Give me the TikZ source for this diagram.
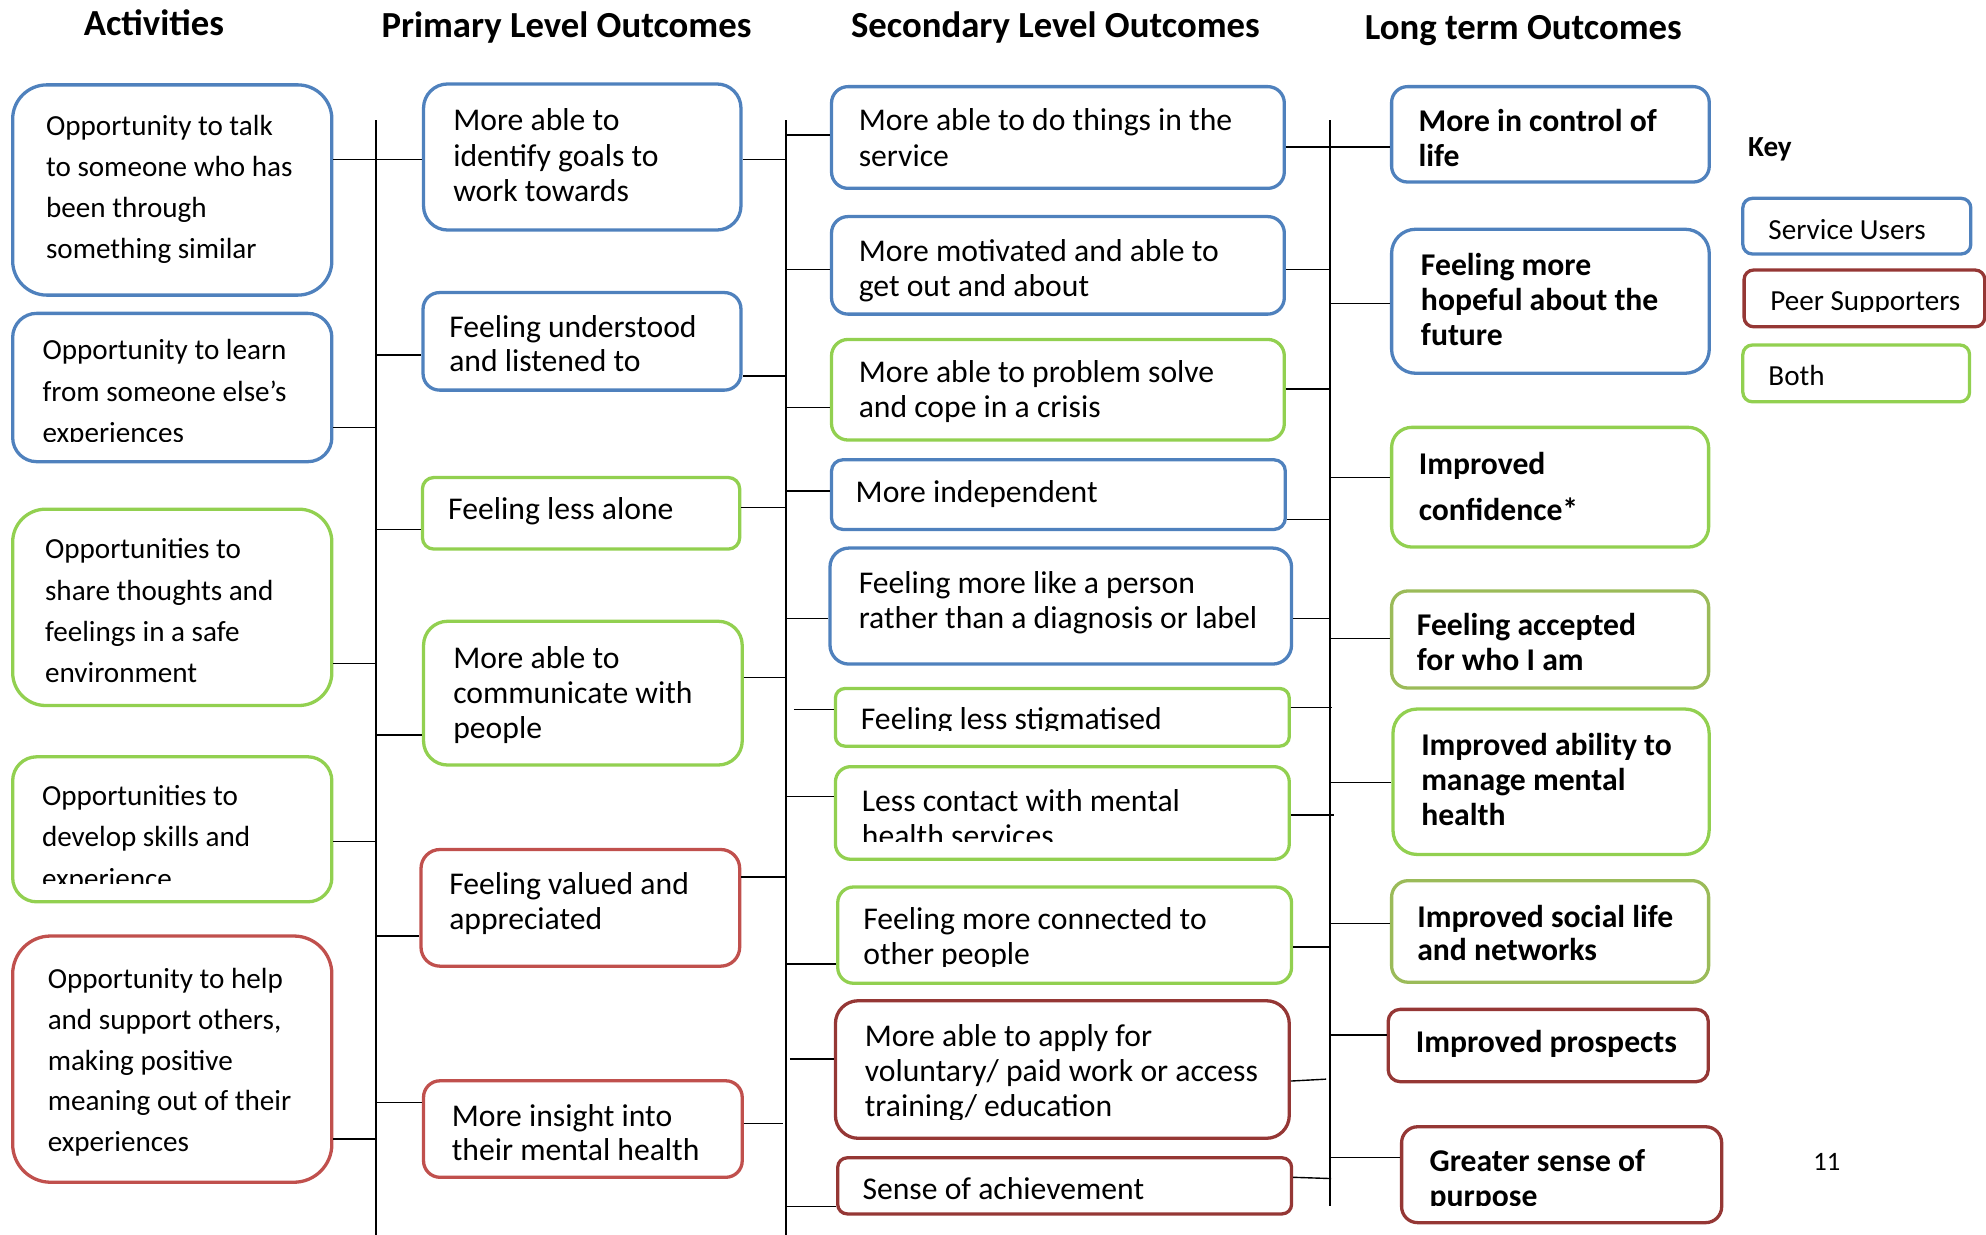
\documentclass[tikz,border=0pt]{standalone}
\usepackage{fontspec}
\setmainfont{Carlito}
\definecolor{cblue}{HTML}{4F81BD}
\definecolor{cgreen}{HTML}{92D050}
\definecolor{colive}{HTML}{9BBB59}
\definecolor{cred}{HTML}{C0504D}
\definecolor{cdkred}{HTML}{953735}
\newcommand{\bx}[7]{\node[box, draw=#6, rounded corners=#7pt, minimum width={(#4)-(#2)}, minimum height={(#5)-(#3)}] (#1) at ({((#2)+(#4))/2},{((#3)+(#5))/2}) {};}
\newcommand{\mlines}[1]{\vtop{#1}}
\newcommand{\tline}[1]{\hbox{#1}}
\tikzset{
  box/.style={rectangle, line width=2.6pt, inner sep=0pt},
  conn/.style={line width=1.1pt, black},
  ta/.style={anchor=base west, inner sep=0pt, font=\fontsize{23}{32.6}\selectfont},
  tp/.style={anchor=base west, inner sep=0pt, yshift=-0.8pt, font=\fontsize{25}{27.7}\selectfont},
  tl/.style={anchor=base west, inner sep=0pt, yshift=-1.2pt, font=\bfseries\fontsize{25}{27.8}\selectfont},
  th/.style={anchor=base west, inner sep=0pt, font=\bfseries\fontsize{29}{34}\selectfont},
  tk/.style={anchor=base west, inner sep=0pt, font=\fontsize{23}{27}\selectfont},
}
\begin{document}
\begin{tikzpicture}[x=1pt,y=-1pt]
\useasboundingbox (0,0) rectangle (1568,975);

% headings
\node[th] (hA) at (66,28.2) {Activities};
\node[th] (hP) at (301,29.4) {Primary Level Outcomes};
\node[th] (hS) at (671.7,29.4) {Secondary Level Outcomes};
\node[th] (hL) at (1077.4,31.2) {Long term Outcomes};

% boxes
\bx{A1}{10}{67}{262}{233}{cblue}{27}
\bx{A2}{10}{247.4}{262}{364.5}{cblue}{19}
\bx{A3}{10}{402}{262}{557}{cgreen}{26}
\bx{A4}{10}{597.5}{262}{712}{cgreen}{19}
\bx{A5}{10}{739}{262}{933.4}{cred}{30}
\bx{P1}{334.4}{66.3}{585}{181.6}{cblue}{19}
\bx{P2}{334}{231}{585}{308}{cblue}{13}
\bx{P3}{333.5}{377}{584}{433.5}{cgreen}{9}
\bx{P4}{334.4}{490.5}{586}{604}{cgreen}{19}
\bx{P5}{332.4}{670.7}{584}{762.8}{cred}{15}
\bx{P6}{334.4}{853.3}{586}{929.5}{cred}{13}
\bx{S1}{656.5}{68.4}{1014}{148.7}{cblue}{13}
\bx{S2}{656.5}{171}{1014}{248}{cblue}{13}
\bx{S3}{656.5}{268}{1014}{347.4}{cgreen}{13}
\bx{S4}{656.5}{363}{1014.8}{418}{cblue}{9}
\bx{S5}{655.3}{432.7}{1019.7}{524.3}{cblue}{15}
\bx{S6}{659.6}{543.6}{1017.9}{589.1}{cgreen}{7.5}
\bx{S7}{659.6}{605.3}{1017.9}{678.4}{cgreen}{12}
\bx{S8}{661.4}{700.3}{1019.7}{776.3}{cgreen}{12.5}
\bx{S9}{659.6}{790.1}{1017.9}{898.7}{cdkred}{18}
\bx{S10}{661.4}{914.1}{1019.7}{958.4}{cdkred}{7.5}
\bx{L1}{1098.7}{68.4}{1349.5}{143.7}{cblue}{12.5}
\bx{L2}{1098.7}{181}{1349.5}{294.7}{cblue}{19}
\bx{L3}{1098.7}{337.4}{1349}{431.9}{cgreen}{16}
\bx{L4}{1098.7}{466.6}{1349}{543.2}{colive}{12.7}
\bx{L5}{1099.8}{559.8}{1349.4}{674.6}{cgreen}{19}
\bx{L6}{1098.7}{695.3}{1349}{775.5}{colive}{13}
\bx{L7}{1096}{796.9}{1348.7}{854}{cdkred}{9.5}
\bx{L8}{1106.6}{889.6}{1359.3}{965.3}{cdkred}{12.6}
\bx{K1}{1376}{156.6}{1556}{200.5}{cblue}{7.5}
\bx{K2}{1377}{213.2}{1567}{258}{cdkred}{7.5}
\bx{K3}{1376}{272.4}{1555}{317.2}{cgreen}{7.5}

% activity texts
\node[ta] (tA1) at (36.2,106.6) {\mlines{\tline{Opportunity to talk}\tline{to someone who has}\tline{been through}\tline{something similar}}};
\begin{scope}
\clip (12,250) rectangle (260,348.7);
\node[ta] (tA2) at (33.4,284.2) {\mlines{\tline{Opportunity to learn}\tline{from someone else’s}\tline{experiences}}};
\end{scope}
\node[ta] (tA3) at (35.4,441.2) {\mlines{\tline{Opportunities to}\tline{share thoughts and}\tline{feelings in a safe}\tline{environment}}};
\begin{scope}
\clip (12,600) rectangle (260,697.7);
\node[ta] (tA4) at (33,636) {\mlines{\tline{Opportunities to}\tline{develop skills and}\tline{experience}}};
\end{scope}
\node[ta, font=\fontsize{23}{32.2}\selectfont] (tA5) at (37.5,780.5) {\mlines{\tline{Opportunity to help}\tline{and support others,}\tline{making positive}\tline{meaning out of their}\tline{experiences}}};

% primary texts
\node[tp] (tP1) at (357.7,102.6) {\mlines{\tline{More able to}\tline{identify goals to}\tline{work towards}}};
\node[tp, font=\fontsize{25}{27}\selectfont] (tP2) at (354.5,265.8) {\mlines{\tline{Feeling understood}\tline{and listened to}}};
\node[tp] (tP3) at (353.7,409.6) {Feeling less alone};
\node[tp] (tP4) at (357.7,527) {\mlines{\tline{More able to}\tline{communicate with}\tline{people}}};
\node[tp] (tP5) at (354.5,705.4) {\mlines{\tline{Feeling valued and}\tline{appreciated}}};
\node[tp, font=\fontsize{25}{27}\selectfont] (tP6) at (356.5,888.3) {\mlines{\tline{More insight into}\tline{their mental health}}};

% secondary texts
\node[tp] (tS1) at (677.8,102.6) {\mlines{\tline{More able to do things in the}\tline{service}}};
\node[tp] (tS2) at (677.8,205.3) {\mlines{\tline{More motivated and able to}\tline{get out and about}}};
\node[tp] (tS3) at (677.8,301.3) {\mlines{\tline{More able to problem solve}\tline{and cope in a crisis}}};
\node[tp] (tS4) at (675.4,396) {More independent};
\node[tp] (tS5) at (677.8,468.1) {\mlines{\tline{Feeling more like a person}\tline{rather than a diagnosis or label}}};
\begin{scope}
\clip (662,546) rectangle (1015,576.4);
\node[tp] (tS6) at (679.5,575) {Feeling less stigmatised};
\end{scope}
\begin{scope}
\clip (662,608) rectangle (1015,664.5);
\node[tp] (tS7) at (680.3,639.5) {\mlines{\tline{Less contact with mental}\tline{health services}}};
\end{scope}
\begin{scope}
\clip (663,703) rectangle (1017,763.2);
\node[tp] (tS8) at (681.4,733.1) {\mlines{\tline{Feeling more connected to}\tline{other people}}};
\end{scope}
\begin{scope}
\clip (662,793) rectangle (1015,884);
\node[tp] (tS9) at (682.6,825.5) {\mlines{\tline{More able to apply for}\tline{voluntary/ paid work or access}\tline{training/ education}}};
\end{scope}
\node[tp] (tS10) at (680.8,946) {Sense of achievement};

% long-term texts
\node[tl] (tL1) at (1119.8,102.6) {\mlines{\tline{More in control of}\tline{life}}};
\node[tl] (tL2) at (1121.7,216.3) {\mlines{\tline{Feeling more}\tline{hopeful about the}\tline{future}}};
\node[tl, font=\bfseries\fontsize{25}{35.9}\selectfont] (tL3) at (1120,373.7) {\mlines{\tline{Improved}\tline{confidence*}}};
\node[tl] (tL4) at (1118.5,500.6) {\mlines{\tline{Feeling accepted}\tline{for who I am}}};
\node[tl] (tL5) at (1121.9,595.3) {\mlines{\tline{Improved ability to}\tline{manage mental}\tline{health}}};
\node[tl, font=\bfseries\fontsize{25}{26.3}\selectfont] (tL6) at (1118.8,731.1) {\mlines{\tline{Improved social life}\tline{and networks}}};
\node[tl] (tL7) at (1117.7,829.8) {Improved prospects};
\begin{scope}
\clip (1109,892) rectangle (1356,951.4);
\node[tl] (tL8) at (1128.5,923.7) {\mlines{\tline{Greater sense of}\tline{purpose}}};
\end{scope}

% key
\node[tk, font=\bfseries\fontsize{23}{27}\selectfont] (tKey) at (1380,123.7) {Key};
\node[tk] (tK1) at (1396,189) {Service Users};
\begin{scope}
\clip (1379,215) rectangle (1565,246.1);
\node[tk] (tK2) at (1397.5,244.8) {Peer Supporters};
\end{scope}
\node[tk] (tK3) at (1396,304) {Both};
\node[anchor=base west, inner sep=0pt, font=\fontsize{21}{25}\selectfont] (pg) at (1431.5,923.8) {11};

% buses
\coordinate (b1t) at (297,95); \coordinate (b1b) at (297,975);
\coordinate (b2t) at (620.5,95); \coordinate (b2b) at (620.5,975);
\coordinate (b3t) at (1050,95); \coordinate (b3b) at (1050,952);
\draw[conn] (b1t) -- (b1b);
\draw[conn] (b2t) -- (b2b);
\draw[conn] (b3t) -- (b3b);

% column 1 connectors
\draw[conn] (A1.east |- 0,125.8) -- (P1.west |- 0,125.8);
\draw[conn] (A2.east |- 0,337.3) -- (b1t |- 0,337.3);
\draw[conn] (A3.east |- 0,524) -- (b1t |- 0,524);
\draw[conn] (A4.east |- 0,664.5) -- (b1t |- 0,664.5);
\draw[conn] (A5.east |- 0,899.1) -- (b1t |- 0,899.1);
\draw[conn] (b1t |- 0,280.3) -- (P2.west |- 0,280.3);
\draw[conn] (b1t |- 0,418) -- (P3.west |- 0,418);
\draw[conn] (b1t |- 0,580.2) -- (P4.west |- 0,580.2);
\draw[conn] (b1t |- 0,738.9) -- (P5.west |- 0,738.9);
\draw[conn] (b1t |- 0,870.6) -- (P6.west |- 0,870.6);

% column 2 connectors
\draw[conn] (P1.east |- 0,125.8) -- (b2t |- 0,125.8);
\draw[conn] (P2.east |- 0,296.9) -- (b2t |- 0,296.9);
\draw[conn] (P3.east |- 0,400.8) -- (b2t |- 0,400.8);
\draw[conn] (P4.east |- 0,534.8) -- (b2t |- 0,534.8);
\draw[conn] (P5.east |- 0,692.3) -- (b2t |- 0,692.3);
\coordinate (p6end) at (618,887.2);
\draw[conn] (P6.east |- 0,887.2) -- (p6end);
\draw[conn] (b2t |- 0,106.6) -- (S1.west |- 0,106.6);
\draw[conn] (b2t |- 0,212.6) -- (S2.west |- 0,212.6);
\draw[conn] (b2t |- 0,321.5) -- (S3.west |- 0,321.5);
\draw[conn] (b2t |- 0,387.6) -- (S4.west |- 0,387.6);
\draw[conn] (b2t |- 0,488.5) -- (S5.west |- 0,488.5);
\coordinate (s6free) at (626.7,560);
\draw[conn] (s6free) -- (S6.west |- s6free);
\draw[conn] (b2t |- 0,629) -- (S7.west |- 0,629);
\draw[conn] (b2t |- 0,761) -- (S8.west |- 0,761);
\coordinate (s9free) at (623.7,836);
\draw[conn] (s9free) -- (S9.west |- s9free);
\draw[conn] (b2t |- 0,952.6) -- (S10.west |- 0,952.6);

% column 3 connectors
\draw[conn] (S1.east |- 0,116) -- (L1.west |- 0,116);
\draw[conn] (S2.east |- 0,212.6) -- (b3t |- 0,212.6);
\draw[conn] (S3.east |- 0,307) -- (b3t |- 0,307);
\draw[conn] (S4.east |- 0,410) -- (b3t |- 0,410);
\draw[conn] (S5.east |- 0,488.5) -- (b3t |- 0,488.5);
\coordinate (s6end) at (1052,558.7);
\draw[conn] (S6.east |- s6end) -- (s6end);
\coordinate (s7end) at (1053,643.6);
\draw[conn] (S7.east |- s7end) -- (s7end);
\draw[conn] (S8.east |- 0,747.7) -- (b3t |- 0,747.7);
\coordinate (s9end) at (1047,852);
\draw[conn] (S9.east |- 0,853.5) -- (s9end);
\coordinate (s10end) at (1051,930.5);
\draw[conn] (S10.east |- 0,929.5) -- (s10end);
\draw[conn] (b3t |- 0,239.5) -- (L2.west |- 0,239.5);
\draw[conn] (b3t |- 0,376.8) -- (L3.west |- 0,376.8);
\draw[conn] (b3t |- 0,504.3) -- (L4.west |- 0,504.3);
\draw[conn] (b3t |- 0,618) -- (L5.west |- 0,618);
\draw[conn] (b3t |- 0,729) -- (L6.west |- 0,729);
\draw[conn] (b3t |- 0,817) -- (L7.west |- 0,817);
\draw[conn] (b3t |- 0,914) -- (L8.west |- 0,914);
\end{tikzpicture}
\end{document}
